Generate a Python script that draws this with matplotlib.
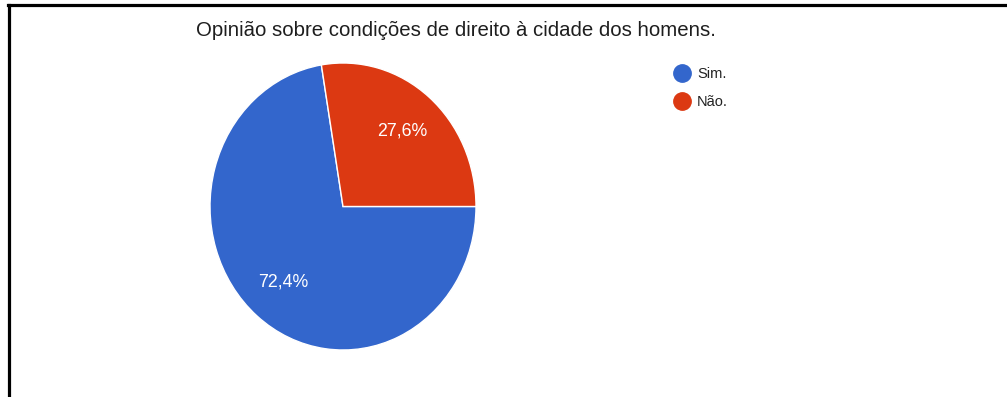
"""Pie chart: opinion on right-to-the-city conditions for men."""

import matplotlib

matplotlib.use("Agg")
import matplotlib.pyplot as plt
from matplotlib.lines import Line2D

plt.rcParams["font.family"] = ["Liberation Sans", "DejaVu Sans"]

TITLE = "Opinião sobre condições de direito à cidade dos homens."
labels = ["Sim.", "Não."]
shares = [72.4, 27.6]
colors = ["#3366CC", "#DC3912"]

W, H = 1007, 397
fig = plt.figure(figsize=(W / 100, H / 100), dpi=100)


def px_box(left, top, width, height):
    """Axes rectangle given in pixels from the top-left corner."""
    return [left / W, (H - top - height) / H, width / W, height / H]


# pie is a bit taller than wide
ax = fig.add_axes(px_box(210, 63, 266, 287))
wedges, _, autotexts = ax.pie(
    shares,
    colors=colors,
    startangle=0,
    counterclock=False,
    autopct=lambda p: f"{p:.1f}%".replace(".", ","),
    pctdistance=0.69,
    wedgeprops={"edgecolor": "white", "linewidth": 1.0},
    textprops={"color": "white", "fontsize": 12.8},
)
ax.set_aspect("auto")
ax.set_xlim(-1.0, 1.0)
ax.set_ylim(-1.0, 1.0)

fig.text(456 / W, 1 - 30 / H, TITLE, ha="center", va="center",
         fontsize=14.65, color="#1e1e1e")

handles = [
    Line2D([], [], marker="o", linestyle="none", markersize=12.5,
           markerfacecolor=c, markeredgecolor=c)
    for c in colors
]
fig.legend(
    handles, labels,
    loc="upper left",
    bbox_to_anchor=(665 / W, 1 - 60 / H),
    frameon=False,
    fontsize=10.5,
    labelcolor="#222222",
    handletextpad=0.4,
    labelspacing=0.97,
    borderpad=0,
    handlelength=1.3,
)

# frame lines along the top and left edges
fig.add_artist(Line2D([8 / W, 1.0], [1 - 5 / H, 1 - 5 / H],
                      transform=fig.transFigure, color="black", linewidth=2.3))
fig.add_artist(Line2D([9 / W, 9 / W], [0.0, 1 - 5 / H],
                      transform=fig.transFigure, color="black", linewidth=2.3))

fig.savefig("out.png", dpi=100)
plt.close(fig)
